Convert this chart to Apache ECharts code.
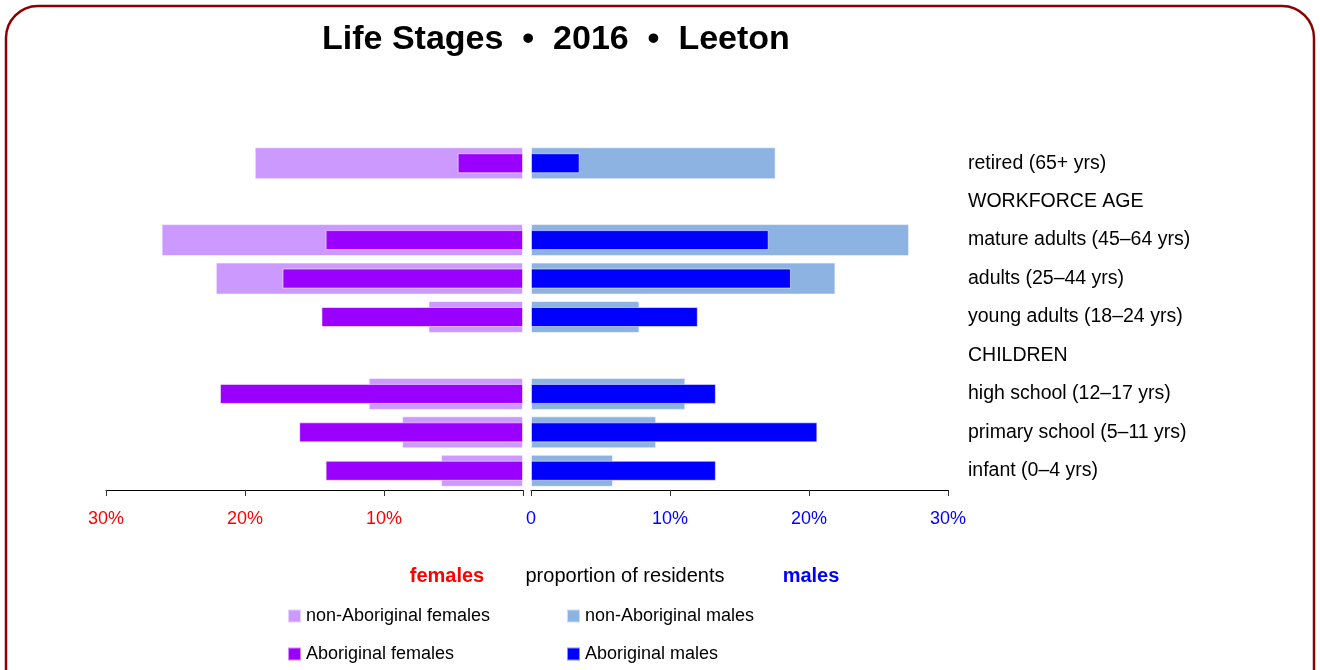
<!DOCTYPE html>
<html>
<head>
<meta charset="utf-8">
<title>Life Stages 2016 Leeton</title>
<script src="https://cdn.jsdelivr.net/npm/echarts@6/dist/echarts.min.js"></script>
<style>
  html, body { margin: 0; padding: 0; background: #fff; }
  #chart { width: 1320px; height: 670px; }
</style>
</head>
<body>
<div id="chart"></div>
<script>
// rows, top to bottom (header rows have no bars)
const categories = [
  "retired (65+ yrs)",
  "WORKFORCE AGE",
  "mature adults (45–64 yrs)",
  "adults (25–44 yrs)",
  "young adults (18–24 yrs)",
  "CHILDREN",
  "high school (12–17 yrs)",
  "primary school (5–11 yrs)",
  "infant (0–4 yrs)",
];
// percent of residents
const nonAbFemales = [19.3, null, 26.0, 22.1, 6.8, null, 11.1, 8.7, 5.9];
const abFemales = [4.7, null, 14.2, 17.3, 14.5, null, 21.8, 16.1, 14.2];
const nonAbMales = [17.6, null, 27.2, 21.9, 7.8, null, 11.1, 9.0, 5.9];
const abMales = [3.5, null, 17.1, 18.7, 12.0, null, 13.3, 20.6, 13.3];
const axisMax = 30;
const axisStep = 10;

const FONT = "'Liberation Sans', Arial, sans-serif";
const C_NONAB_F = "#cc99ff";
const C_AB_F = "#9900ff";
const C_NONAB_M = "#8db3e2";
const C_AB_M = "#0000ff";

const chart = echarts.init(document.getElementById("chart"));

function catAxis(grid, show) {
  return {
    type: "category",
    gridIndex: grid,
    data: categories,
    inverse: true,
    position: "right",
    show: show,
    axisLine: { show: false },
    axisTick: { show: false },
    axisLabel: {
      show: show,
      color: "#000",
      fontFamily: FONT,
      fontSize: 19.5,
      align: "left",
      margin: 20,
      padding: [5, 0, 0, 0],
    },
  };
}

function valAxis(grid, inverse, color, hideZero) {
  return {
    type: "value",
    gridIndex: grid,
    min: 0,
    max: axisMax,
    interval: axisStep,
    inverse: inverse,
    splitLine: { show: false },
    axisLine: { show: true, lineStyle: { color: "#000", width: 1 } },
    axisTick: { show: true, length: 6, lineStyle: { color: "#333" } },
    axisLabel: {
      color: color,
      fontFamily: FONT,
      fontSize: 18,
      margin: 20,
      formatter: (v) => (v === 0 ? (hideZero ? "" : "0") : v + "%"),
    },
  };
}

function barSeries(name, data, color, xi, yi, width) {
  return {
    name: name,
    type: "bar",
    xAxisIndex: xi,
    yAxisIndex: yi,
    data: data,
    barWidth: width,
    itemStyle: {
      color: color,
      borderColor: "rgba(255,255,255,0.55)",
      borderWidth: 1,
    },
  };
}

function legendCol(names, left) {
  return {
    data: names,
    orient: "vertical",
    left: left,
    top: 606,
    padding: 0,
    itemWidth: 13,
    itemHeight: 13,
    itemGap: 18,
    icon: "rect",
    textStyle: { fontFamily: FONT, fontSize: 18, color: "#000", lineHeight: 20 },
  };
}

function bottomText(text, x, color, weight) {
  return {
    type: "text",
    x: x,
    y: 576,
    style: {
      text: text,
      fill: color,
      font: weight + " 20px " + FONT,
      textAlign: "center",
      textVerticalAlign: "middle",
    },
  };
}

const option = {
  animation: false,
  backgroundColor: "#fff",
  title: {
    text: "Life Stages  •  2016  •  Leeton",
    left: 317,
    top: 18,
    textStyle: {
      fontFamily: FONT,
      fontSize: 34,
      fontWeight: "bold",
      color: "#000",
    },
  },
  legend: [
    legendCol(["non-Aboriginal females", "Aboriginal females"], 287),
    legendCol(["non-Aboriginal males", "Aboriginal males"], 566),
  ],
  grid: [
    { left: 106, width: 417, top: 144, height: 346 },
    { left: 531, width: 417, top: 144, height: 346 },
  ],
  xAxis: [
    valAxis(0, true, "#ff0000", true),
    valAxis(1, false, "#0000ff", false),
  ],
  yAxis: [
    catAxis(0, false),
    catAxis(0, false),
    catAxis(1, true),
    catAxis(1, false),
  ],
  series: [
    barSeries("non-Aboriginal females", nonAbFemales, C_NONAB_F, 0, 0, 32),
    barSeries("Aboriginal females", abFemales, C_AB_F, 0, 1, 20),
    barSeries("non-Aboriginal males", nonAbMales, C_NONAB_M, 1, 2, 32),
    barSeries("Aboriginal males", abMales, C_AB_M, 1, 3, 20),
  ],
  graphic: [
    {
      type: "rect",
      silent: true,
      shape: { x: 6, y: 6, width: 1308, height: 720, r: 32 },
      style: { fill: "none", stroke: "#8b0000", lineWidth: 2.5 },
    },
    bottomText("females", 447, "#ff0000", "bold"),
    bottomText("proportion of residents", 625, "#000", "normal"),
    bottomText("males", 811, "#0000ff", "bold"),
  ],
};

chart.setOption(option);
</script>
</body>
</html>
